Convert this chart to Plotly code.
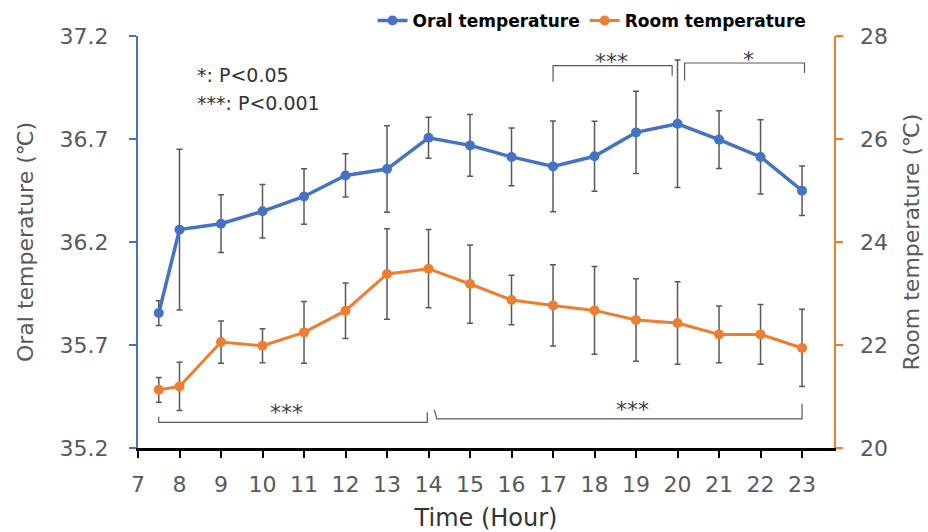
import plotly.graph_objects as go

hours = [7.5, 8, 9, 10, 11, 12, 13, 14, 15, 16, 17, 18, 19, 20, 21, 22, 23]
oral = [35.855, 36.26, 36.289, 36.349, 36.421, 36.523, 36.554, 36.706, 36.669, 36.613,
        36.567, 36.616, 36.732, 36.774, 36.697, 36.613, 36.449]
oral_err = [0.06, 0.39, 0.14, 0.13, 0.135, 0.105, 0.21, 0.10, 0.15, 0.14,
            0.22, 0.17, 0.20, 0.31, 0.14, 0.18, 0.12]
room = [21.13, 21.196, 22.058, 21.986, 22.245, 22.666, 23.379, 23.482, 23.184, 22.874,
        22.769, 22.672, 22.485, 22.427, 22.206, 22.206, 21.942]
room_err = [0.24, 0.47, 0.41, 0.33, 0.6, 0.54, 0.88, 0.76, 0.76, 0.48,
            0.79, 0.85, 0.8, 0.8, 0.55, 0.58, 0.75]

x_ticks = list(range(7, 24))
oral_ticks = [35.2, 35.7, 36.2, 36.7, 37.2]
room_ticks = [20, 22, 24, 26, 28]

BLUE = "#4472C4"
ORANGE = "#ED7D31"
GRAY = "#595959"
FONT = "DejaVu Sans"

L, R, T, B = 138, 94, 36, 84
PW, PH = 928 - L - R, 532 - T - B

fig = go.Figure()
fig.add_trace(go.Scatter(
    x=hours, y=oral, name="Oral temperature", mode="lines+markers",
    line=dict(color=BLUE, width=3.5), marker=dict(color=BLUE, size=10),
    error_y=dict(type="data", array=oral_err, color=GRAY, thickness=1.5, width=3),
    yaxis="y"))
fig.add_trace(go.Scatter(
    x=hours, y=room, name="Room temperature", mode="lines+markers",
    line=dict(color=ORANGE, width=3), marker=dict(color=ORANGE, size=10),
    error_y=dict(type="data", array=room_err, color=GRAY, thickness=1.5, width=3),
    yaxis="y2"))

# significance brackets (x in hours, y in oral-temperature scale)
brackets = [
    [(17.0, 36.978), (17.0, 37.056), (19.87, 37.056), (19.87, 37.007)],
    [(20.17, 36.984), (20.17, 37.069), (23.06, 37.069), (23.06, 37.02)],
    [(7.5, 35.353), (7.5, 35.324), (13.97, 35.324), (13.97, 35.373)],
    [(14.14, 35.386), (14.2, 35.341), (23.0, 35.341), (23.0, 35.415)],
]
shapes = []
for b in brackets:
    path = "M " + " L ".join(f"{px},{py}" for px, py in b)
    shapes.append(dict(type="path", path=path, xref="x", yref="y",
                       line=dict(color=GRAY, width=1.2)))

stars = [("***", 18.4, 37.075), ("*", 21.72, 37.085), ("***", 10.58, 35.37), ("***", 18.92, 35.385)]
annotations = [dict(text=t, x=sx, y=sy, xref="x", yref="y", showarrow=False,
                    font=dict(family=FONT, size=22, color="#404040"), yanchor="middle")
               for t, sx, sy in stars]
for txt, py in [("*: P<0.05", 75), ("***: P<0.001", 103)]:
    annotations.append(dict(text=txt, x=(195 - L) / PW, y=1 - (py - T) / PH,
                            xref="paper", yref="paper", showarrow=False,
                            xanchor="left", yanchor="middle",
                            font=dict(family=FONT, size=19, color="#333333")))
# right-axis tick labels (placed on the y2 scale)
for v in room_ticks:
    annotations.append(dict(text=str(v), x=1 + 24 / PW, y=v, xref="paper", yref="y2",
                            showarrow=False, xanchor="left", yanchor="middle",
                            font=dict(family=FONT, size=22, color=GRAY)))

fig.update_layout(
    width=928, height=532,
    margin=dict(l=L, r=R, t=T, b=B, autoexpand=False),
    paper_bgcolor="white", plot_bgcolor="white",
    font=dict(family=FONT, color=GRAY),
    showlegend=True,
    legend=dict(orientation="h", x=0.337, y=1.0 + 15 / PH, xanchor="left", yanchor="middle",
                font=dict(family=FONT, size=17, color="black", weight="bold"),
                itemwidth=30, bgcolor="rgba(0,0,0,0)"),
    xaxis=dict(range=[7, 23.77], tickvals=x_ticks, showgrid=False, zeroline=False,
               showline=True, linecolor="black", linewidth=2.5,
               ticks="outside", ticklen=7, tickwidth=2, tickcolor="black",
               tickfont=dict(size=22, color=GRAY), ticklabelstandoff=8,
               title=dict(text="Time (Hour)", font=dict(size=24, color="#333333"), standoff=14)),
    yaxis=dict(range=[35.2, 37.2], tickvals=oral_ticks, ticktext=[f"{v:.1f}" for v in oral_ticks],
               showgrid=False, zeroline=False,
               showline=True, linecolor=BLUE, linewidth=2,
               ticks="outside", ticklen=7, tickwidth=2, tickcolor=BLUE,
               tickfont=dict(size=22, color=GRAY), ticklabelstandoff=16,
               title=dict(text="Oral temperature (℃)", font=dict(size=22, color=GRAY), standoff=20)),
    yaxis2=dict(range=[20, 28], tickvals=room_ticks, showticklabels=False,
                overlaying="y", side="right",
                showgrid=False, zeroline=False,
                showline=True, linecolor=ORANGE, linewidth=2,
                ticks="outside", ticklen=7, tickwidth=2, tickcolor=ORANGE,
                title=dict(text="Room temperature (℃)", font=dict(size=22, color=GRAY), standoff=62)),
    shapes=shapes,
    annotations=annotations,
)

fig.write_html("out.html")
